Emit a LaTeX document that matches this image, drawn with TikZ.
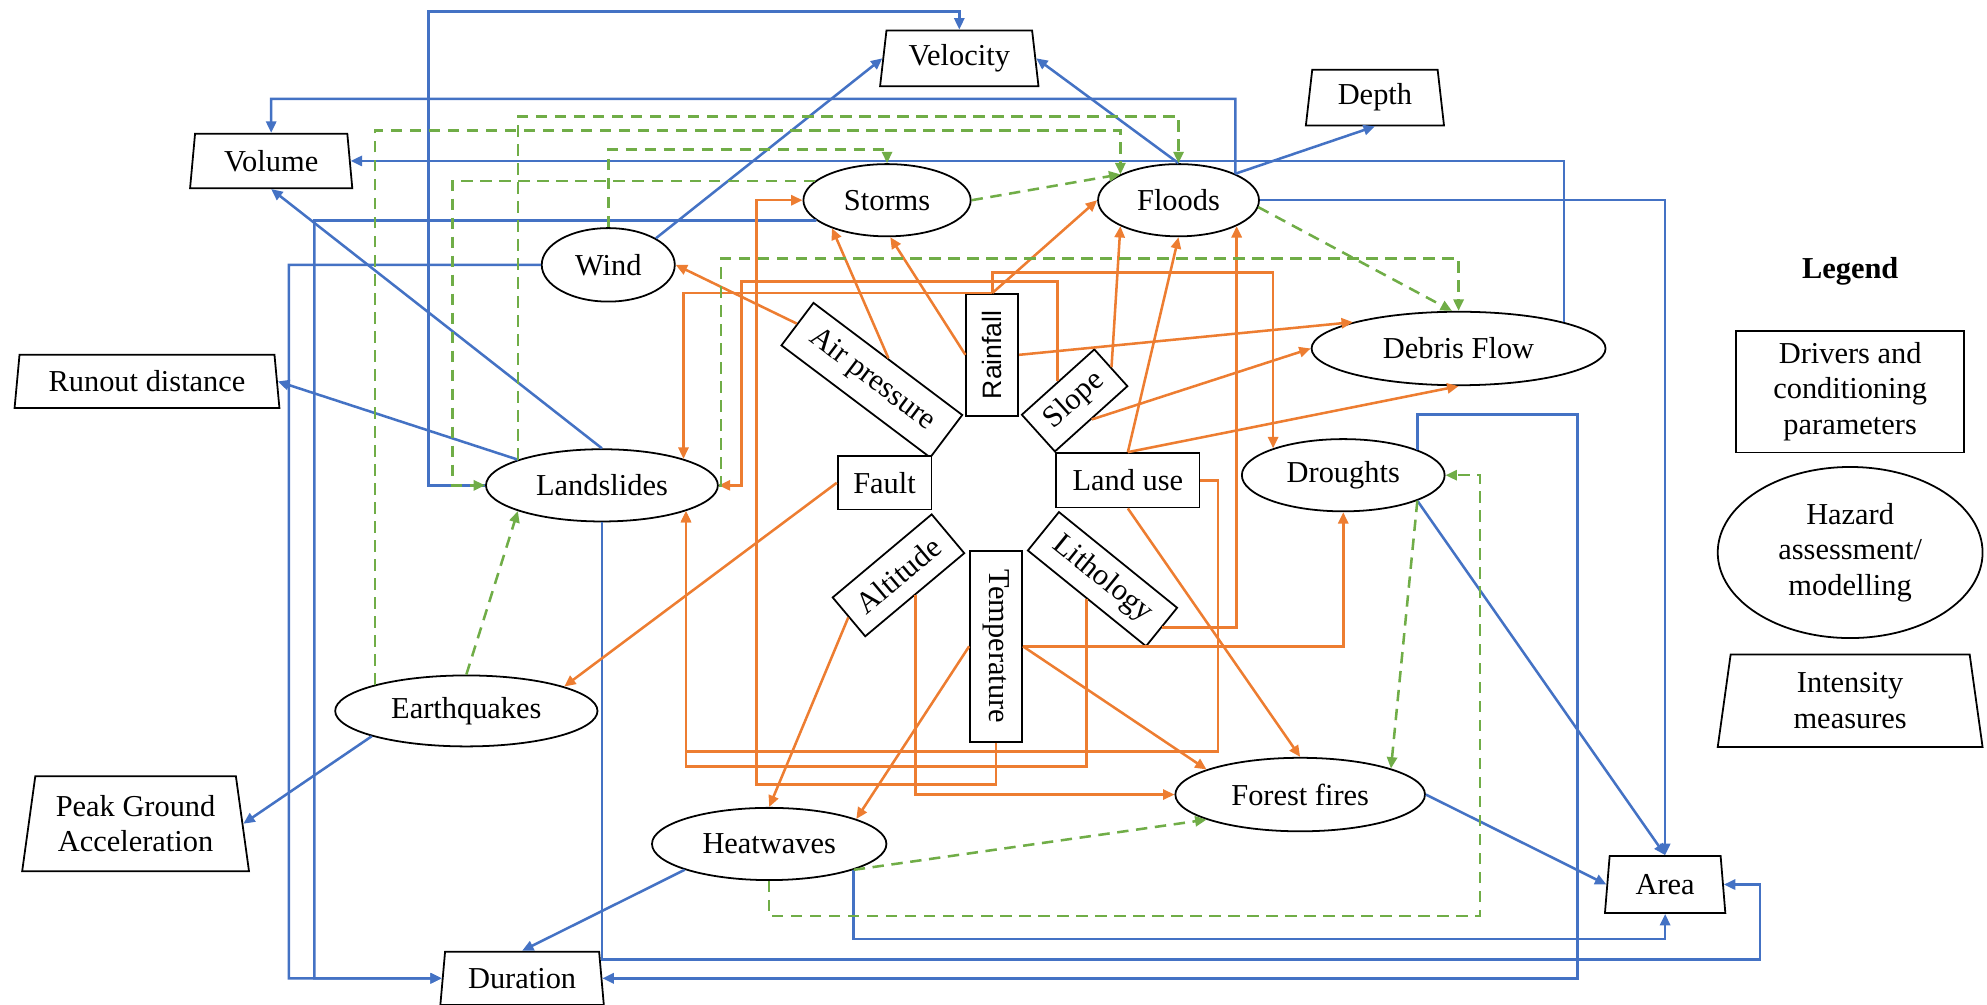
\documentclass[tikz,border=0pt]{standalone}
\usepackage{fontspec}
\setmainfont{Liberation Serif}
\newfontfamily\rainfont{Liberation Sans}
\usetikzlibrary{shapes.geometric,arrows.meta}
\definecolor{cblue}{HTML}{4472C4}
\definecolor{corange}{HTML}{ED7D31}
\definecolor{cgreen}{HTML}{70AD47}
\begin{document}
\begin{tikzpicture}[x=1pt,y=-1pt,
  font=\fontsize{24}{28}\selectfont,
  haz/.style={ellipse,draw,line width=1.4pt,fill=white,inner sep=0pt},
  drv/.style={rectangle,draw,line width=1.4pt,fill=white,inner sep=0pt},
  im/.style={trapezium,trapezium left angle=77,trapezium right angle=77,trapezium stretches body=true,draw,line width=1.4pt,fill=white,inner sep=0pt,align=center},
  arrowtip/.style={-{Triangle[length=9pt,width=8pt]}},
  blueline/.style={draw=cblue,line width=2pt,arrowtip},
  orangeline/.style={draw=corange,line width=2pt,arrowtip},
  greenline/.style={draw=cgreen,line width=2pt,dash pattern=on 9pt off 6pt,arrowtip},
]
\useasboundingbox (0,0) rectangle (1568,793);

% hazards
\node[haz,minimum width=105pt,minimum height=58pt] (wind) at (480,209) {Wind};
\node[haz,minimum width=132pt,minimum height=57pt] (storms) at (700,158) {Storms};
\node[haz,minimum width=127pt,minimum height=57pt] (floods) at (930,158) {Floods};
\node[haz,minimum width=232pt,minimum height=58pt] (debris) at (1151,275) {Debris Flow};
\node[haz,minimum width=160pt,minimum height=57pt] (droughts) at (1060,375) {Droughts};
\node[haz,minimum width=183pt,minimum height=57pt] (land) at (475,383) {Landslides};
\node[haz,minimum width=207pt,minimum height=56pt] (eq) at (368,561) {Earthquakes};
\node[haz,minimum width=185pt,minimum height=57pt] (heat) at (607,666) {Heatwaves};
\node[haz,minimum width=197pt,minimum height=58pt] (fire) at (1026,627) {Forest fires};

% drivers
\node[drv,rotate=90,minimum width=96pt,minimum height=41pt] (rain) at (783,280) {\rainfont\fontsize{21}{25}\selectfont Rainfall};
\node[drv,rotate=-37,minimum width=147pt,minimum height=42pt] (airp) at (688,300) {Air pressure};
\node[drv,rotate=42,minimum width=77pt,minimum height=39pt] (slope) at (848,316) {Slope};
\node[drv,minimum width=113pt,minimum height=43pt] (landuse) at (890,379) {Land use};
\node[drv,minimum width=74pt,minimum height=42pt] (fault) at (698,381) {Fault};
\node[drv,rotate=40,minimum width=102pt,minimum height=40pt] (alt) at (709,454) {Altitude};
\node[drv,rotate=-90,minimum width=151pt,minimum height=41pt] (temp) at (786,510) {Temperature};
\node[drv,rotate=-39,minimum width=120pt,minimum height=39pt] (lith) at (870,457) {Lithology};

% intensity measures
\node[im,minimum width=125pt,minimum height=44pt] (vel) at (757,46) {Velocity};
\node[im,minimum width=128pt,minimum height=43pt] (vol) at (214,127) {Volume};
\node[im,minimum width=109pt,minimum height=44pt] (depth) at (1085,77) {Depth};
\node[im,minimum width=209pt,minimum height=42pt] (runout) at (116,301) {Runout distance};
\node[im,minimum width=179pt,minimum height=75pt] (pga) at (107,650) {Peak Ground\\Acceleration};
\node[im,minimum width=129pt,minimum height=42pt] (dur) at (412,772) {Duration};
\node[im,minimum width=95pt,minimum height=45pt] (area) at (1314,698) {Area};

% legend
\node (legt) at (1460,214) {\bfseries Legend};
\node[drv,align=center,minimum width=180pt,minimum height=96pt] (legr) at (1460,309) {Drivers and\\conditioning\\parameters};
\node[haz,align=center,minimum width=209pt,minimum height=135pt] (lege) at (1460,436) {Hazard\\assessment/\\modelling};
\node[im,minimum width=209pt,minimum height=73pt] (legi) at (1460,553) {Intensity\\measures};

% blue connectors
\draw[blueline] (land.west) -| (338,9) -| (vel.north);
\draw[blueline] (floods.25) |- (214,78) -- (vol.north);
\draw[blueline] (debris.14) |- (vol.east);
\draw[blueline] (floods.east) -| (area.north);
\draw[blueline] (floods.25) -- (depth.south);
\draw[blueline] (floods.north) -- (vel.east);
\draw[blueline] (wind.north east) -- (vel.west);
\draw[blueline] (storms.196) -| (248,772) -- (dur.west);
\draw[blueline] (wind.west) -| (228,772) -- (dur.west);
\draw[blueline] (land.north) -- (vol.south);
\draw[blueline] (land.163) -- (runout.east);
\draw[blueline] (land.south) |- (1389,757) |- (area.east);
\draw[blueline] (heat.-17) |- (area.south |- 0,741) -- (area.south);
\draw[blueline] (heat.197) -- (dur.north);
\draw[blueline] (droughts.19) |- (1245,327) |- (dur.east);
\draw[blueline] (droughts.-19) -- (area.north);
\draw[blueline] (fire.east) -- (area.west);
\draw[blueline] (eq.195) -- (pga.east);

% orange connectors
\draw[orangeline] (airp.west) -- (wind.east);
\draw[orangeline] (airp.north) -- (storms.207);
\draw[orangeline] (rain.north) -- (storms.275);
\draw[orangeline] (rain.east) -- (floods.west);
\draw[orangeline] (rain.south) -- (debris.166);
\draw[orangeline] (rain.east) -| (land.18);
\draw[orangeline] (rain.east) -- (rain.east |- 0,215) -| (droughts.159);
\draw[orangeline] (slope.north) |- (585,222) |- (land.east);
\draw[orangeline] (temp.east) |- (597,619) |- (storms.west);
\draw[orangeline] (landuse.east) -| (961,593) -| (land.-17);
\draw[orangeline] (lith.south) -- (lith.south |- 0,605) -| (land.-17);
\draw[orangeline] (alt.south) |- (fire.west);
\draw[orangeline] (alt.west) -- (heat.north);
\draw[orangeline] (temp.south) -- (heat.16);
\draw[orangeline] (temp.north) -- (fire.165);
\draw[orangeline] (temp.north) -| (droughts.south);
\draw[orangeline] (landuse.south) -- (fire.north);
\draw[orangeline] (landuse.north) -- (floods.south);
\draw[orangeline] (landuse.north) -- (debris.south);
\draw[orangeline] (slope.east) -- (floods.204);
\draw[orangeline] (slope.south) -- (debris.west);
\draw[orangeline] (lith.east) -| (floods.-24);
\draw[orangeline] (fault.west) -- (eq.14);

% green connectors
\draw[greenline] (eq.north) -- (land.197);
\draw[greenline] (eq.164) -- (eq.164 |- 0,103) -| (floods.156);
\draw[greenline] (land.163) -- (land.163 |- 0,92) -| (floods.north);
\draw[greenline] (wind.north) -- (wind.north |- 0,118) -| (storms.north);
\draw[greenline] (storms.165) -| (357,383) -- (land.west);
\draw[greenline] (storms.east) -- (floods.156);
\draw[greenline] (floods.-5) -- (debris.100);
\draw[greenline] (land.east) -| (569,204) -| (debris.north);
\draw[greenline] (heat.-17) -- (fire.195);
\draw[greenline] (heat.south) |- (1168,723) |- (droughts.east);
\draw[greenline] (droughts.-19) -- (fire.16);
\end{tikzpicture}
\end{document}
